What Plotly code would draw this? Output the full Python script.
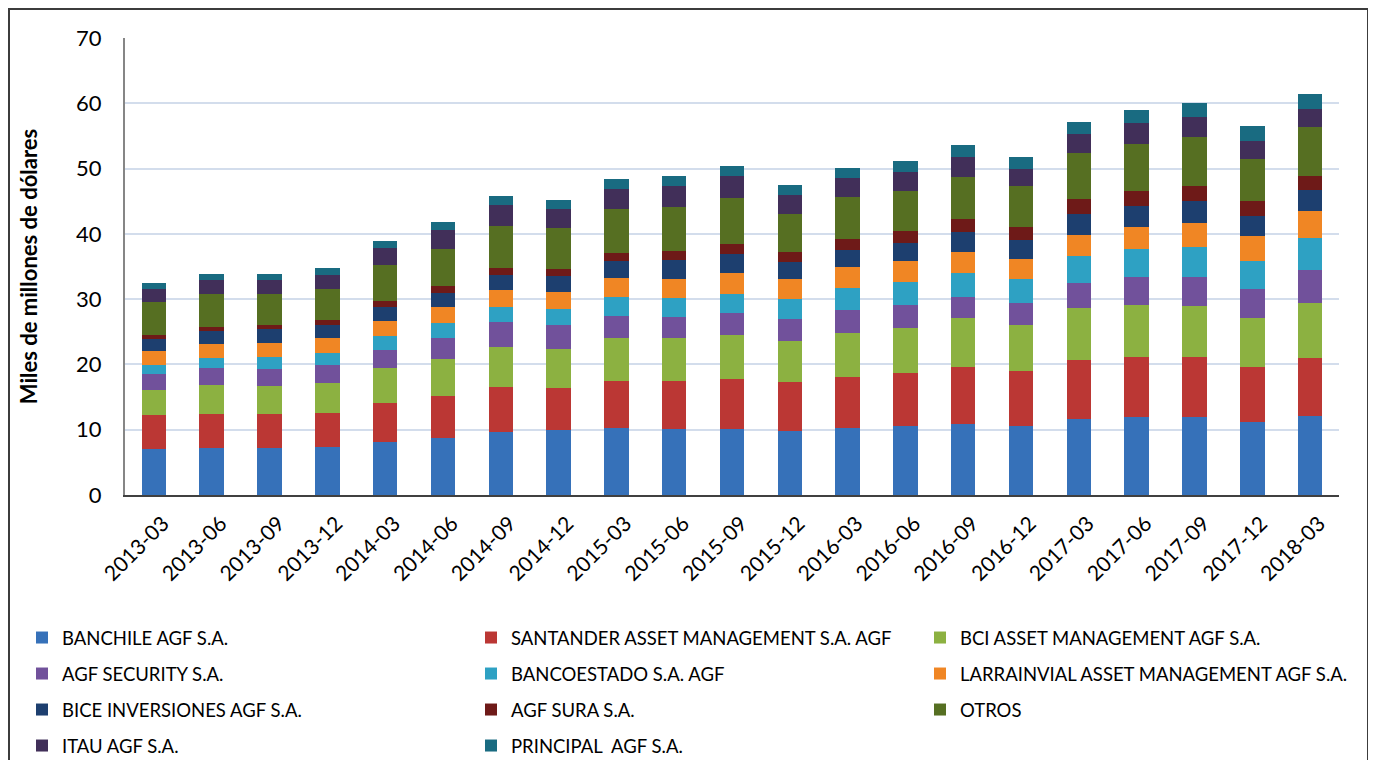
import plotly.graph_objects as go

periods = ["2013-03", "2013-06", "2013-09", "2013-12", "2014-03", "2014-06", "2014-09",
           "2014-12", "2015-03", "2015-06", "2015-09", "2015-12", "2016-03", "2016-06",
           "2016-09", "2016-12", "2017-03", "2017-06", "2017-09", "2017-12", "2018-03"]

banchile = [7.05, 7.2, 7.2, 7.35, 8.12, 8.78, 9.65, 9.96, 10.26, 10.1, 10.1, 9.8, 10.26, 10.57,
            10.87, 10.57, 11.64, 11.95, 11.95, 11.18, 12.15]
santander = [5.2, 5.2, 5.2, 5.2, 5.97, 6.38, 6.89, 6.43, 7.2, 7.36, 7.67, 7.51, 7.81, 8.12,
             8.73, 8.42, 9.08, 9.19, 9.19, 8.42, 8.83]
bci = [3.85, 4.45, 4.3, 4.6, 5.36, 5.67, 6.13, 5.97, 6.59, 6.59, 6.73, 6.28, 6.74, 6.89,
       7.5, 7.05, 7.92, 7.96, 7.81, 7.5, 8.43]
security = [2.5, 2.65, 2.6, 2.75, 2.81, 3.27, 3.88, 3.68, 3.41, 3.21, 3.38, 3.37, 3.52, 3.52,
            3.23, 3.37, 3.83, 4.29, 4.44, 4.45, 5.1]
bancoestado = [1.3, 1.5, 1.85, 1.85, 2.09, 2.24, 2.25, 2.46, 2.87, 2.91, 2.91, 3.06, 3.37, 3.52,
               3.67, 3.67, 4.19, 4.29, 4.59, 4.29, 4.9]
larrainvial = [2.15, 2.15, 2.15, 2.3, 2.3, 2.46, 2.6, 2.6, 2.91, 2.91, 3.21, 3.06, 3.22, 3.22,
               3.22, 3.07, 3.16, 3.37, 3.68, 3.83, 4.09]
bice = [1.85, 2.0, 2.15, 2.0, 2.15, 2.14, 2.3, 2.44, 2.6, 2.91, 2.91, 2.61, 2.6, 2.76,
        3.06, 2.91, 3.22, 3.22, 3.37, 3.06, 3.21]
sura = [0.6, 0.6, 0.6, 0.75, 0.9, 1.06, 1.07, 1.06, 1.23, 1.38, 1.53, 1.53, 1.69, 1.83,
        1.99, 1.99, 2.3, 2.29, 2.3, 2.3, 2.15]
otros = [5.05, 5.05, 4.75, 4.75, 5.53, 5.68, 6.43, 6.3, 6.73, 6.73, 7.05, 5.82, 6.43, 6.13,
         6.43, 6.28, 7.04, 7.2, 7.5, 6.43, 7.5]
itau = [2.0, 2.2, 2.2, 2.15, 2.65, 2.92, 3.2, 2.9, 3.07, 3.23, 3.41, 2.91, 2.96, 2.91,
        3.07, 2.6, 2.91, 3.22, 3.07, 2.76, 2.76]
principal = [0.95, 0.85, 0.85, 1.05, 1.02, 1.2, 1.4, 1.38, 1.53, 1.53, 1.49, 1.53, 1.48, 1.69,
             1.83, 1.84, 1.84, 1.99, 2.14, 2.3, 2.3]

names = ["BANCHILE AGF S.A.", "SANTANDER ASSET MANAGEMENT S.A. AGF", "BCI ASSET MANAGEMENT AGF S.A.",
         "AGF SECURITY S.A.", "BANCOESTADO S.A. AGF", "LARRAINVIAL ASSET MANAGEMENT AGF S.A.",
         "BICE INVERSIONES AGF S.A.", "AGF SURA S.A.", "OTROS",
         "ITAU AGF S.A.", "PRINCIPAL  AGF S.A."]
values = [banchile, santander, bci, security, bancoestado, larrainvial, bice, sura, otros, itau, principal]
colors = ["#3671b9", "#bb3734", "#8cb141", "#71519b", "#2ea1c3", "#f08624",
          "#1d3f6f", "#6e1a18", "#566f22", "#412f59", "#196b81"]
# rows 1-4 hold columns 1-2; legends 5-7 hold column 3 of rows 1-3
legends = ["legend", "legend", "legend5", "legend2", "legend2", "legend6",
           "legend3", "legend3", "legend7", "legend4", "legend4"]

fig = go.Figure()
for name, vals, col, leg in zip(names, values, colors, legends):
    fig.add_trace(go.Bar(x=periods, y=vals, name=name, legend=leg,
                         marker=dict(color=col, line=dict(width=0))))

W, H = 1376, 760
OFF = 8  # page body margin offset
ml, mt = 125 - OFF, 38 - OFF
mr = W - (1339 - OFF)
mb = H - (495 - OFF)
pw, ph = W - ml - mr, H - mt - mb

row_y = [638, 674, 710, 746]
leg_common = dict(orientation="h", xref="container", yref="container", xanchor="left",
                  yanchor="middle", entrywidth=404, entrywidthmode="pixels",
                  traceorder="normal", bgcolor="rgba(0,0,0,0)",
                  font=dict(family="Lato", size=18.5, color="black"))
layout_legends = {}
row_keys = ["legend", "legend2", "legend3", "legend4"]
for i, key in enumerate(row_keys):
    layout_legends[key] = dict(leg_common, x=(22 - OFF) / W, y=1 - (row_y[i] - OFF) / H)
for i, key in enumerate(["legend5", "legend6", "legend7"]):
    layout_legends[key] = dict(leg_common, x=(920 - OFF) / W, y=1 - (row_y[i] - OFF) / H)

fig.update_layout(
    barmode="stack", bargap=0.576,
    width=W, height=H,
    margin=dict(l=ml, r=mr, t=mt, b=mb),
    plot_bgcolor="white", paper_bgcolor="white",
    font=dict(family="Lato", color="black"),
    showlegend=True,
    **layout_legends,
)
fig.update_yaxes(range=[0, 70], dtick=10, showgrid=True, gridcolor="#d3ddec", gridwidth=2,
                 zeroline=False, showline=True, linecolor="#868686", linewidth=2,
                 ticks="", ticklabelstandoff=17, tickfont=dict(size=22, color="black"),
                 title=dict(text="Miles de millones de dólares", standoff=32,
                            font=dict(size=22, family="Lato", weight="bold", color="black")))
fig.update_xaxes(type="category", showgrid=False, showline=True, linecolor="#404040", linewidth=2,
                 ticks="", tickangle=-45, tickfont=dict(size=21, color="black"),
                 ticklabelstandoff=6, ticklabelshift=9)

# outer frame around the chart
fig.add_shape(type="rect", xref="paper", yref="paper",
              x0=(1 - ml) / pw, x1=(1368 - OFF - ml) / pw,
              y0=(mt + ph - 800) / ph, y1=(mt + ph - 1) / ph,
              line=dict(color="#3c3c3c", width=2), fillcolor="rgba(0,0,0,0)", layer="below")

fig.write_html("out.html")
